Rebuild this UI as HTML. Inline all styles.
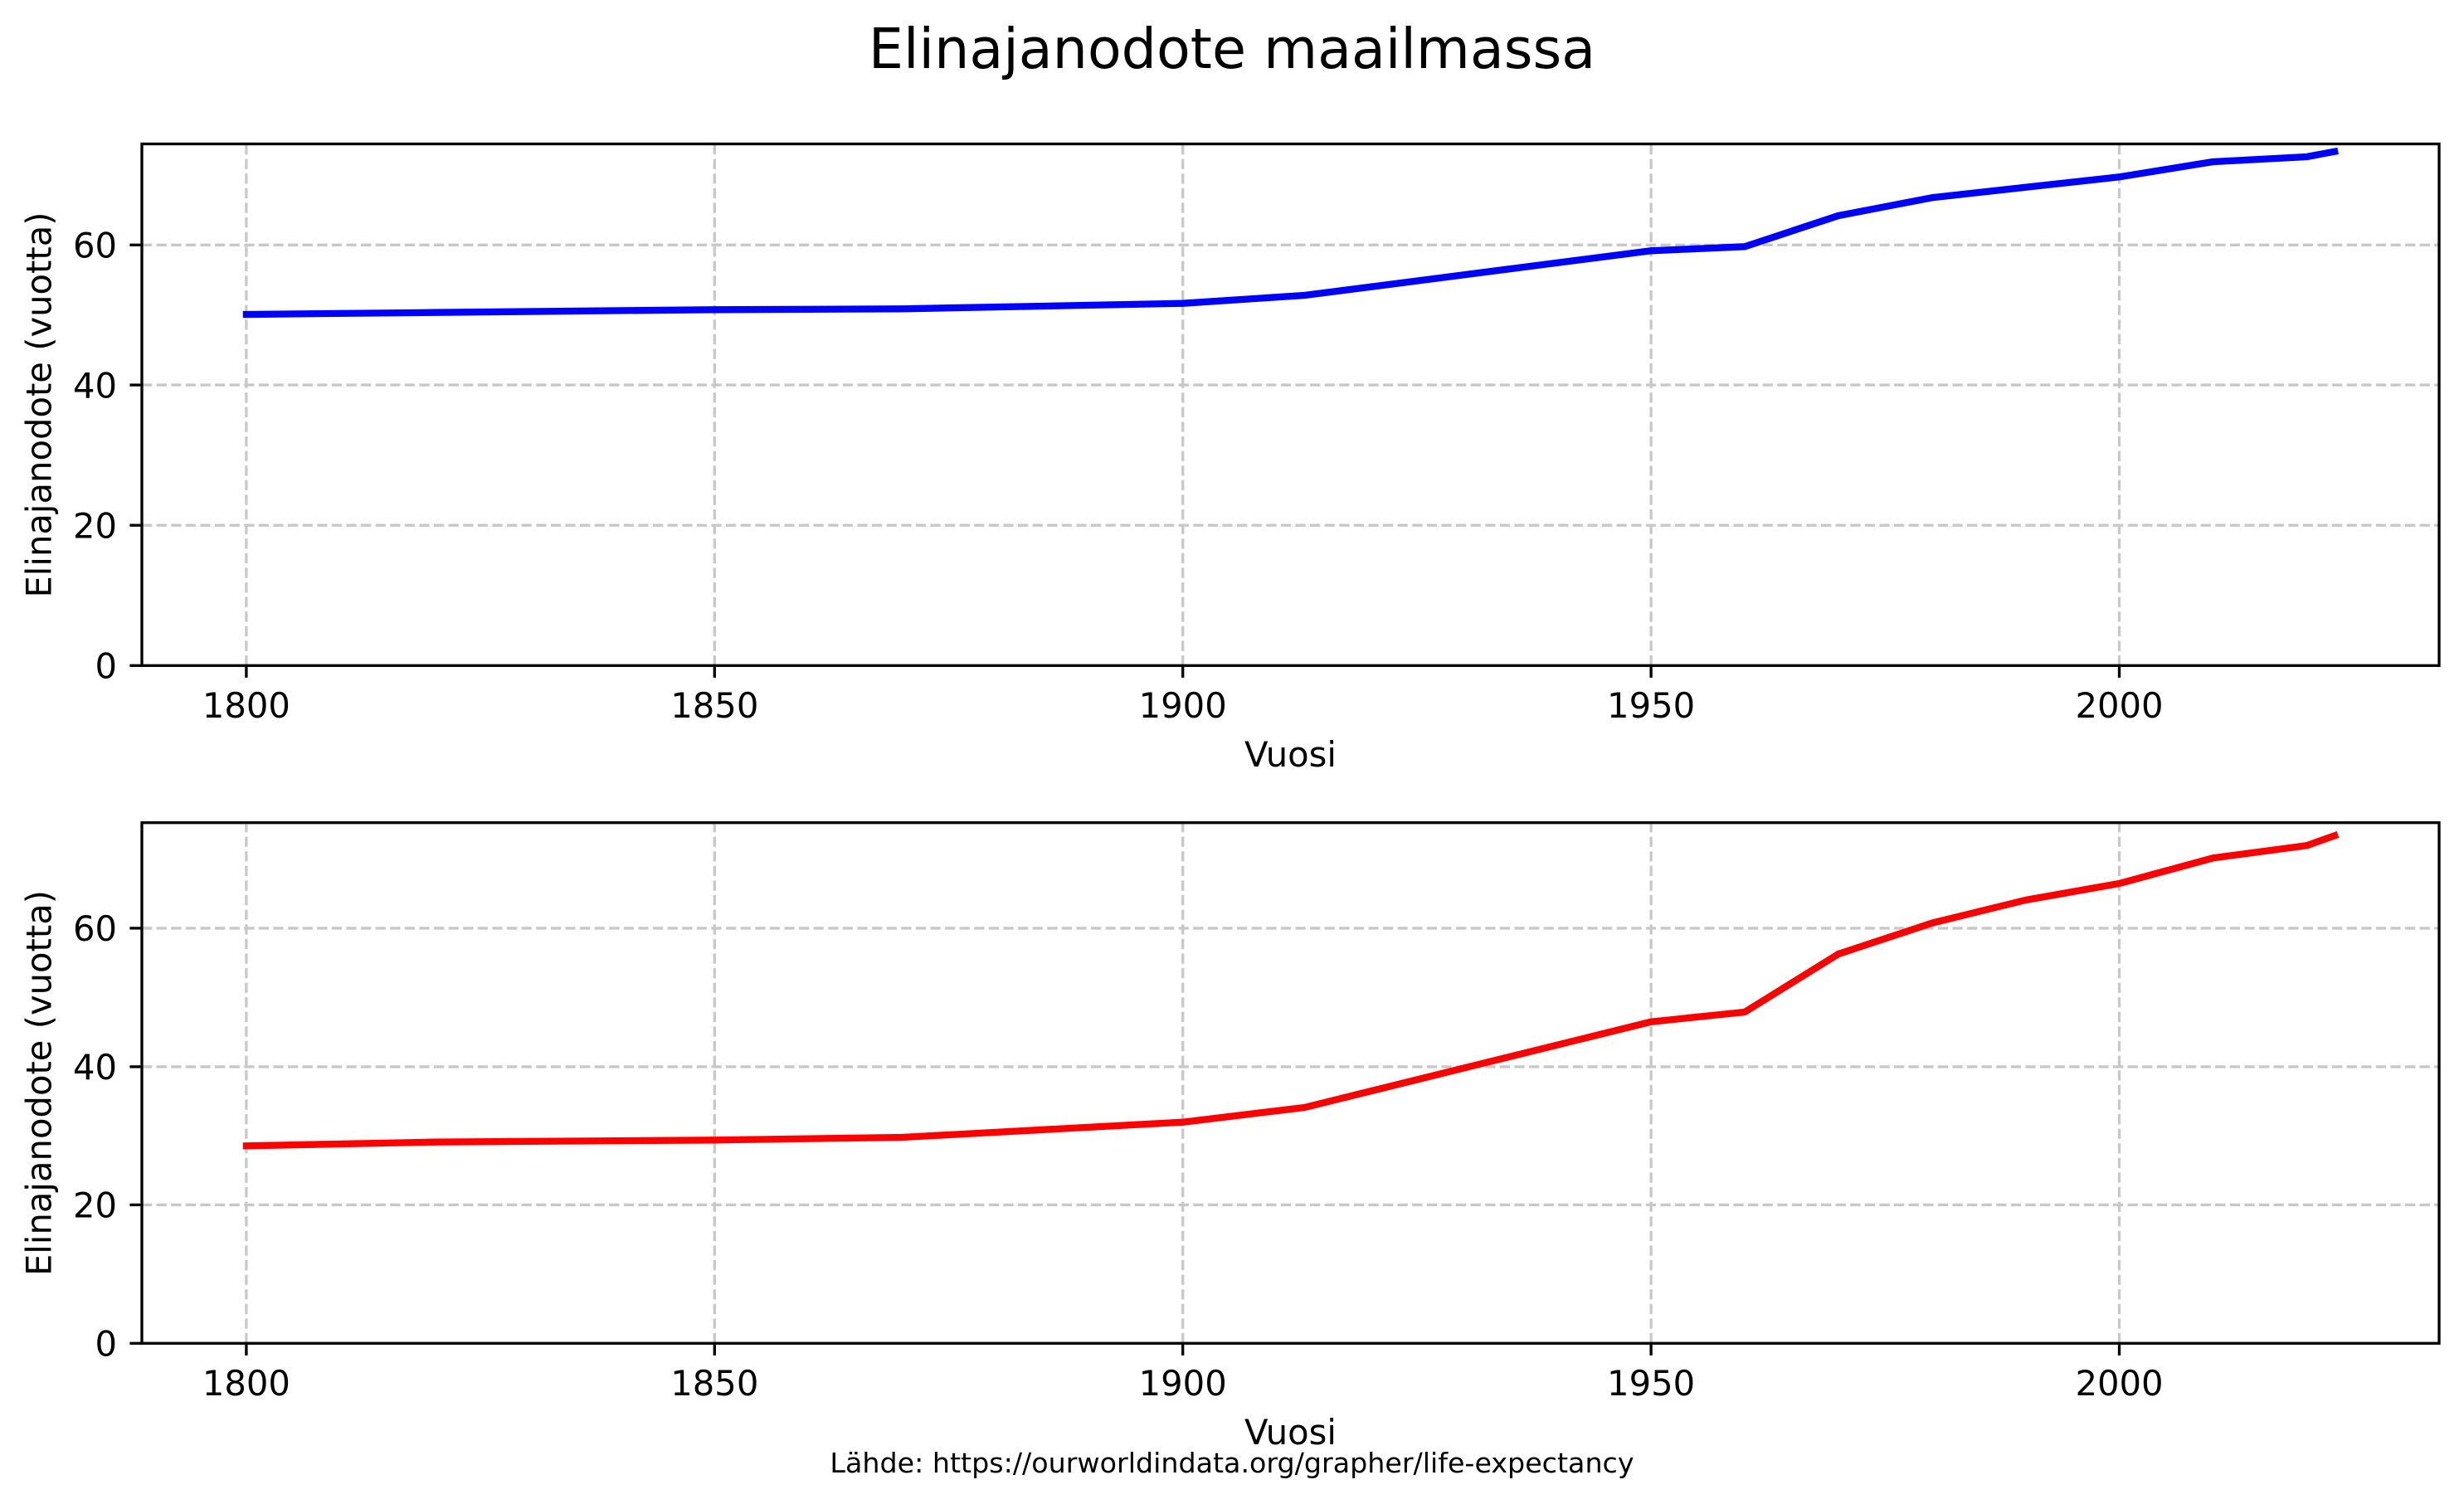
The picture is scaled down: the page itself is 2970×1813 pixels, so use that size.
<!DOCTYPE html>
<html>
<head>
<meta charset="utf-8">
<style>
  html, body { margin: 0; padding: 0; background: #ffffff; }
  svg { display: block; }
  text { font-family: "DejaVu Sans", "Liberation Sans", sans-serif; fill: #000; }
</style>
</head>
<body>
<svg width="2970" height="1813" viewBox="0 0 2970 1813" xmlns="http://www.w3.org/2000/svg">
  <rect x="0" y="0" width="2970" height="1813" fill="#ffffff"/>

  <!-- Title -->
  <text x="1485" y="82" font-size="66.7" text-anchor="middle">Elinajanodote maailmassa</text>

  <!-- ================= TOP AXES ================= -->
  <g stroke="#c8c8c8" stroke-width="3.33" stroke-dasharray="12.3 5.3" fill="none">
    <line x1="296.9" y1="802.3" x2="296.9" y2="173.5"/>
    <line x1="861.3" y1="802.3" x2="861.3" y2="173.5"/>
    <line x1="1425.7" y1="802.3" x2="1425.7" y2="173.5"/>
    <line x1="1990.1" y1="802.3" x2="1990.1" y2="173.5"/>
    <line x1="2554.5" y1="802.3" x2="2554.5" y2="173.5"/>
    <line x1="171" y1="633.2" x2="2940" y2="633.2"/>
    <line x1="171" y1="464.1" x2="2940" y2="464.1"/>
    <line x1="171" y1="295.3" x2="2940" y2="295.3"/>
  </g>
  <polyline fill="none" stroke="#0000ff" stroke-width="8.3" stroke-linecap="square" stroke-linejoin="round"
    points="296.9,379 522.7,376.7 861.3,373.3 1087.1,372.3 1425.7,365.7 1572.4,356 1990.1,302.3 2103,297.3 2215.9,260 2328.7,238.3 2441.6,225.7 2554.5,213.3 2667.4,195 2780.3,189 2814.1,182.7"/>
  <rect x="171" y="173.5" width="2769" height="628.8" fill="none" stroke="#000" stroke-width="3.33"/>
  <g stroke="#000" stroke-width="3.33">
    <line x1="296.9" y1="802.3" x2="296.9" y2="816.9"/>
    <line x1="861.3" y1="802.3" x2="861.3" y2="816.9"/>
    <line x1="1425.7" y1="802.3" x2="1425.7" y2="816.9"/>
    <line x1="1990.1" y1="802.3" x2="1990.1" y2="816.9"/>
    <line x1="2554.5" y1="802.3" x2="2554.5" y2="816.9"/>
    <line x1="156.4" y1="802.3" x2="171" y2="802.3"/>
    <line x1="156.4" y1="633.2" x2="171" y2="633.2"/>
    <line x1="156.4" y1="464.1" x2="171" y2="464.1"/>
    <line x1="156.4" y1="295.3" x2="171" y2="295.3"/>
  </g>
  <g font-size="41.7" text-anchor="middle">
    <text x="296.9" y="865">1800</text>
    <text x="861.3" y="865">1850</text>
    <text x="1425.7" y="865">1900</text>
    <text x="1990.1" y="865">1950</text>
    <text x="2554.5" y="865">2000</text>
  </g>
  <g font-size="41.7" text-anchor="end">
    <text x="141" y="817.6">0</text>
    <text x="141" y="648.5">20</text>
    <text x="141" y="479.4">40</text>
    <text x="141" y="310.6">60</text>
  </g>
  <text x="1555.5" y="924" font-size="41.7" text-anchor="middle">Vuosi</text>
  <text transform="translate(61.5,488) rotate(-90)" x="0" y="0" font-size="41.7" text-anchor="middle">Elinajanodote (vuotta)</text>

  <!-- ================= BOTTOM AXES ================= -->
  <g stroke="#c8c8c8" stroke-width="3.33" stroke-dasharray="12.3 5.3" fill="none">
    <line x1="296.9" y1="1619.3" x2="296.9" y2="991.7"/>
    <line x1="861.3" y1="1619.3" x2="861.3" y2="991.7"/>
    <line x1="1425.7" y1="1619.3" x2="1425.7" y2="991.7"/>
    <line x1="1990.1" y1="1619.3" x2="1990.1" y2="991.7"/>
    <line x1="2554.5" y1="1619.3" x2="2554.5" y2="991.7"/>
    <line x1="171" y1="1452.4" x2="2940" y2="1452.4"/>
    <line x1="171" y1="1285.9" x2="2940" y2="1285.9"/>
    <line x1="171" y1="1118.9" x2="2940" y2="1118.9"/>
  </g>
  <polyline fill="none" stroke="#ff0000" stroke-width="8.3" stroke-linecap="square" stroke-linejoin="round"
    points="296.9,1381.3 522.7,1376.7 861.3,1374.3 1087.1,1371 1425.7,1352.7 1572.4,1335 1990.1,1231.7 2103,1220 2215.9,1150 2328.7,1112.7 2441.6,1085 2554.5,1065 2667.4,1034.3 2780.3,1019.3 2814.1,1007.3"/>
  <rect x="171" y="991.7" width="2769" height="627.6" fill="none" stroke="#000" stroke-width="3.33"/>
  <g stroke="#000" stroke-width="3.33">
    <line x1="296.9" y1="1619.3" x2="296.9" y2="1633.9"/>
    <line x1="861.3" y1="1619.3" x2="861.3" y2="1633.9"/>
    <line x1="1425.7" y1="1619.3" x2="1425.7" y2="1633.9"/>
    <line x1="1990.1" y1="1619.3" x2="1990.1" y2="1633.9"/>
    <line x1="2554.5" y1="1619.3" x2="2554.5" y2="1633.9"/>
    <line x1="156.4" y1="1619.3" x2="171" y2="1619.3"/>
    <line x1="156.4" y1="1452.4" x2="171" y2="1452.4"/>
    <line x1="156.4" y1="1285.9" x2="171" y2="1285.9"/>
    <line x1="156.4" y1="1118.9" x2="171" y2="1118.9"/>
  </g>
  <g font-size="41.7" text-anchor="middle">
    <text x="296.9" y="1682">1800</text>
    <text x="861.3" y="1682">1850</text>
    <text x="1425.7" y="1682">1900</text>
    <text x="1990.1" y="1682">1950</text>
    <text x="2554.5" y="1682">2000</text>
  </g>
  <g font-size="41.7" text-anchor="end">
    <text x="141" y="1634.6">0</text>
    <text x="141" y="1467.7">20</text>
    <text x="141" y="1301.2">40</text>
    <text x="141" y="1134.2">60</text>
  </g>
  <text x="1555.5" y="1741" font-size="41.7" text-anchor="middle">Vuosi</text>
  <text transform="translate(61.5,1305.5) rotate(-90)" x="0" y="0" font-size="41.7" text-anchor="middle">Elinajanodote (vuotta)</text>

  <!-- Source -->
  <text x="1485" y="1775" font-size="33.3" text-anchor="middle">Lähde: https://ourworldindata.org/grapher/life-expectancy</text>
</svg>
</body>
</html>
